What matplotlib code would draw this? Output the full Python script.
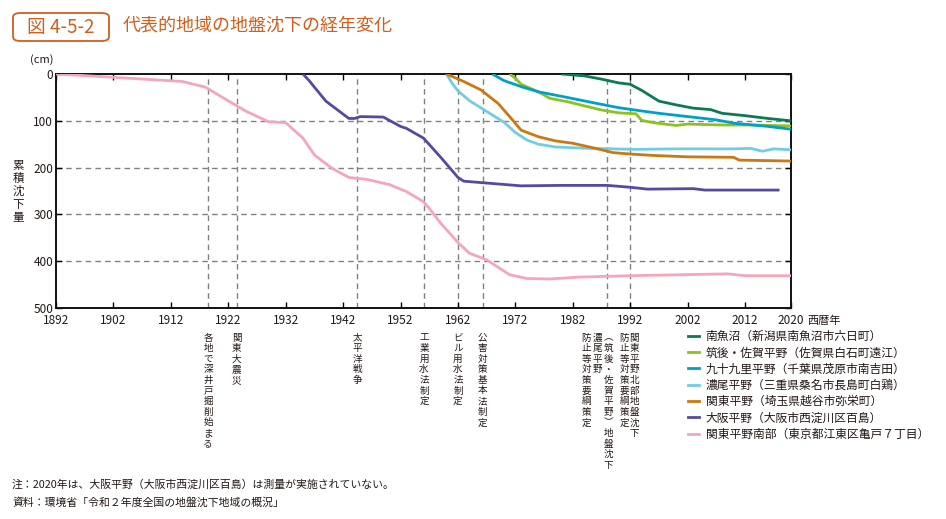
import matplotlib
matplotlib.use('Agg')
import matplotlib.pyplot as plt
from matplotlib.lines import Line2D
from matplotlib.patches import FancyBboxPatch

plt.rcParams['font.family'] = ['Noto Sans CJK JP', 'DejaVu Sans']

TXT = '#231815'
ORANGE_TITLE = '#D0601E'

# 南魚沼（新潟県南魚沼市六日町）
minami_years = [1980, 1984, 1987, 1990, 1992, 1994, 1997, 2000, 2003, 2006, 2008, 2012, 2016, 2020]
minami_vals = [0, 4, 11, 19, 22, 35, 58, 66, 73, 76, 84, 89, 95, 100]

# 筑後・佐賀平野（佐賀県白石町遠江）
chikugo_years = [1971, 1972, 1973, 1976, 1978, 1981, 1984, 1987, 1990, 1993, 1994, 1996, 2000, 2002, 2008, 2013, 2020]
chikugo_vals = [0, 9, 22, 38, 52, 59, 68, 77, 83, 85, 99, 104, 110, 107, 109, 109, 111]

# 九十九里平野（千葉県茂原市南吉田）
kujukuri_years = [1968, 1970, 1973, 1976, 1981, 1985, 1990, 1994, 1997, 2002, 2007, 2010, 2016, 2020]
kujukuri_vals = [0, 14, 27, 38, 50, 60, 72, 79, 84, 91, 98, 105, 112, 118]

# 濃尾平野（三重県桑名市長島町白鶏）
nobi_years = [1960, 1961, 1962, 1964, 1967, 1970, 1972, 1974, 1976, 1979, 1985, 1993, 2000, 2010, 2013, 2015, 2017, 2020]
nobi_vals = [0, 20, 36, 57, 80, 103, 125, 141, 150, 156, 159, 161, 160, 160, 159, 165, 160, 162]

# 関東平野（埼玉県越谷市弥栄町）
kanto_years = [1960, 1963, 1966, 1969, 1971, 1973, 1976, 1979, 1982, 1986, 1989, 1992, 1996, 2002, 2010, 2011, 2020]
kanto_vals = [0, 16, 34, 63, 91, 120, 134, 143, 148, 159, 168, 171, 174, 177, 178, 184, 186]

# 大阪平野（大阪市西淀川区百島）
osaka_years = [1935, 1936, 1939, 1943, 1944, 1945, 1949, 1952, 1953, 1956, 1959, 1962, 1963, 1966, 1973, 1980, 1988, 1992, 1995, 2003, 2005, 2018]
osaka_vals = [0, 13, 58, 95, 95, 91, 92, 112, 116, 137, 178, 221, 229, 232, 239, 238, 238, 242, 246, 245, 248, 248]

# 関東平野南部（東京都江東区亀戸７丁目）
tokyo_years = [1892, 1902, 1914, 1918, 1921, 1925, 1929, 1932, 1935, 1937, 1940, 1943, 1946, 1950, 1953, 1956, 1957, 1959,
               1962, 1964, 1967, 1971, 1974, 1978, 1983, 1992, 2009, 2012, 2020]
tokyo_vals = [0, 7, 16, 28, 50, 79, 102, 104, 137, 173, 201, 221, 225, 236, 251, 273, 287, 319,
              360, 383, 397, 429, 437, 438, 434, 431, 427, 431, 431]

series = [
    ('南魚沼（新潟県南魚沼市六日町）', minami_years, minami_vals, '#0A7B52'),
    ('筑後・佐賀平野（佐賀県白石町遠江）', chikugo_years, chikugo_vals, '#8CC21E'),
    ('九十九里平野（千葉県茂原市南吉田）', kujukuri_years, kujukuri_vals, '#00A0C9'),
    ('濃尾平野（三重県桑名市長島町白鶏）', nobi_years, nobi_vals, '#72CDE2'),
    ('関東平野（埼玉県越谷市弥栄町）', kanto_years, kanto_vals, '#CC7812'),
    ('大阪平野（大阪市西淀川区百島）', osaka_years, osaka_vals, '#554A9F'),
    ('関東平野南部（東京都江東区亀戸７丁目）', tokyo_years, tokyo_vals, '#F5A6B9'),
]

xticks = [1892, 1902, 1912, 1922, 1932, 1942, 1952, 1962, 1972, 1982, 1992, 2002, 2012, 2020]
yticks = [0, 100, 200, 300, 400, 500]

# 出来事: (年, [(列の横ずれpx, 文字列), ...])
events = [
    (1918.5, [(0, '各地で深井戸掘削始まる')]),
    (1923.5, [(0, '関東大震災')]),
    (1944.5, [(0, '太平洋戦争')]),
    (1956.1, [(0, '工業用水法制定')]),
    (1962.0, [(0, 'ビル用水法制定')]),
    (1966.3, [(0, '公害対策基本法制定')]),
    (1988.0, [(-21, '防止等対策要綱策定'), (-10, '濃尾平野'), (1, '︵筑後・佐賀平野︶地盤沈下')]),
    (1992.0, [(-6, '防止等対策要綱策定'), (4, '関東平野北部地盤沈下')]),
]

fig = plt.figure(figsize=(9.46, 5.19), dpi=100)
ax = fig.add_axes([56 / 946, 211 / 519, 735 / 946, 234 / 519])

for y in [100, 200, 300, 400]:
    ax.axhline(y, color='#808080', lw=1.0, ls=(0, (4, 3)), zorder=1)
for yr, _ in events:
    ax.axvline(yr, color='#808080', lw=1.0, ls=(0, (4, 3)), zorder=1)

handles = []
for name, xs, ys, col in series:
    ax.plot(xs, ys, color=col, lw=2.0, solid_capstyle='butt', zorder=3)
    handles.append(Line2D([0], [0], color=col, lw=2.0))

ax.set_xlim(1892, 2020)
ax.set_ylim(500, 0)
ax.set_xticks(xticks)
ax.set_yticks(yticks)
ax.tick_params(direction='in', length=4, width=1, top=True, right=True,
               labelsize=8.5, labelcolor=TXT)
ax.tick_params(axis='x', pad=4)
ax.tick_params(axis='y', pad=2)
for s in ax.spines.values():
    s.set_linewidth(1.4)
    s.set_color('#111111')

ax.annotate('西暦年', xy=(2020, 0), xycoords=ax.get_xaxis_transform(),
            xytext=(16, -13), textcoords='offset pixels', ha='left', va='center',
            fontsize=8, color=TXT)
fig.text(42 / 946, 1 - 60 / 519, '(cm)', ha='center', va='center', fontsize=8, color=TXT)
for i, ch in enumerate('累積沈下量'):
    fig.text(18 / 946, 1 - (166 + i * 12.75) / 519, ch, ha='center', va='center',
             fontsize=8.3, color=TXT)

# 出来事ラベル（縦書き）
for yr, cols in events:
    for dx, label in cols:
        for i, ch in enumerate(label):
            ax.annotate(ch, xy=(yr, 0), xycoords=ax.get_xaxis_transform(),
                        xytext=(dx, -(30 + i * 10.6)), textcoords='offset pixels',
                        ha='center', va='center', fontsize=6.9, color=TXT)

fig.legend(handles, [s[0] for s in series], loc='upper left',
           bbox_to_anchor=(688 / 946, 1 - 330 / 519), frameon=False,
           fontsize=8.5, handlelength=0.9, handletextpad=0.6, labelspacing=0.28,
           borderpad=0, borderaxespad=0, labelcolor=TXT)

# タイトル
box = FancyBboxPatch((13 / 946, 1 - 41 / 519), 96 / 946, 28 / 519,
                     boxstyle='round,pad=0,rounding_size=0.008', transform=fig.transFigure,
                     fill=False, edgecolor=ORANGE_TITLE, lw=1.3)
fig.patches.append(box)
fig.text(61 / 946, 1 - 27 / 519, '図 4-5-2', ha='center', va='center', fontsize=13.5, color=ORANGE_TITLE)
fig.text(123 / 946, 1 - 26 / 519, '代表的地域の地盤沈下の経年変化', ha='left', va='center',
         fontsize=13, color=ORANGE_TITLE)

fig.text(12 / 946, 1 - 484 / 519, '注：2020年は、大阪平野（大阪市西淀川区百島）は測量が実施されていない。',
         ha='left', va='center', fontsize=7.8, color=TXT)
fig.text(12 / 946, 1 - 503 / 519, '資料：環境省「令和２年度全国の地盤沈下地域の概況」',
         ha='left', va='center', fontsize=7.8, color=TXT)

fig.savefig('out.png', dpi=100)
